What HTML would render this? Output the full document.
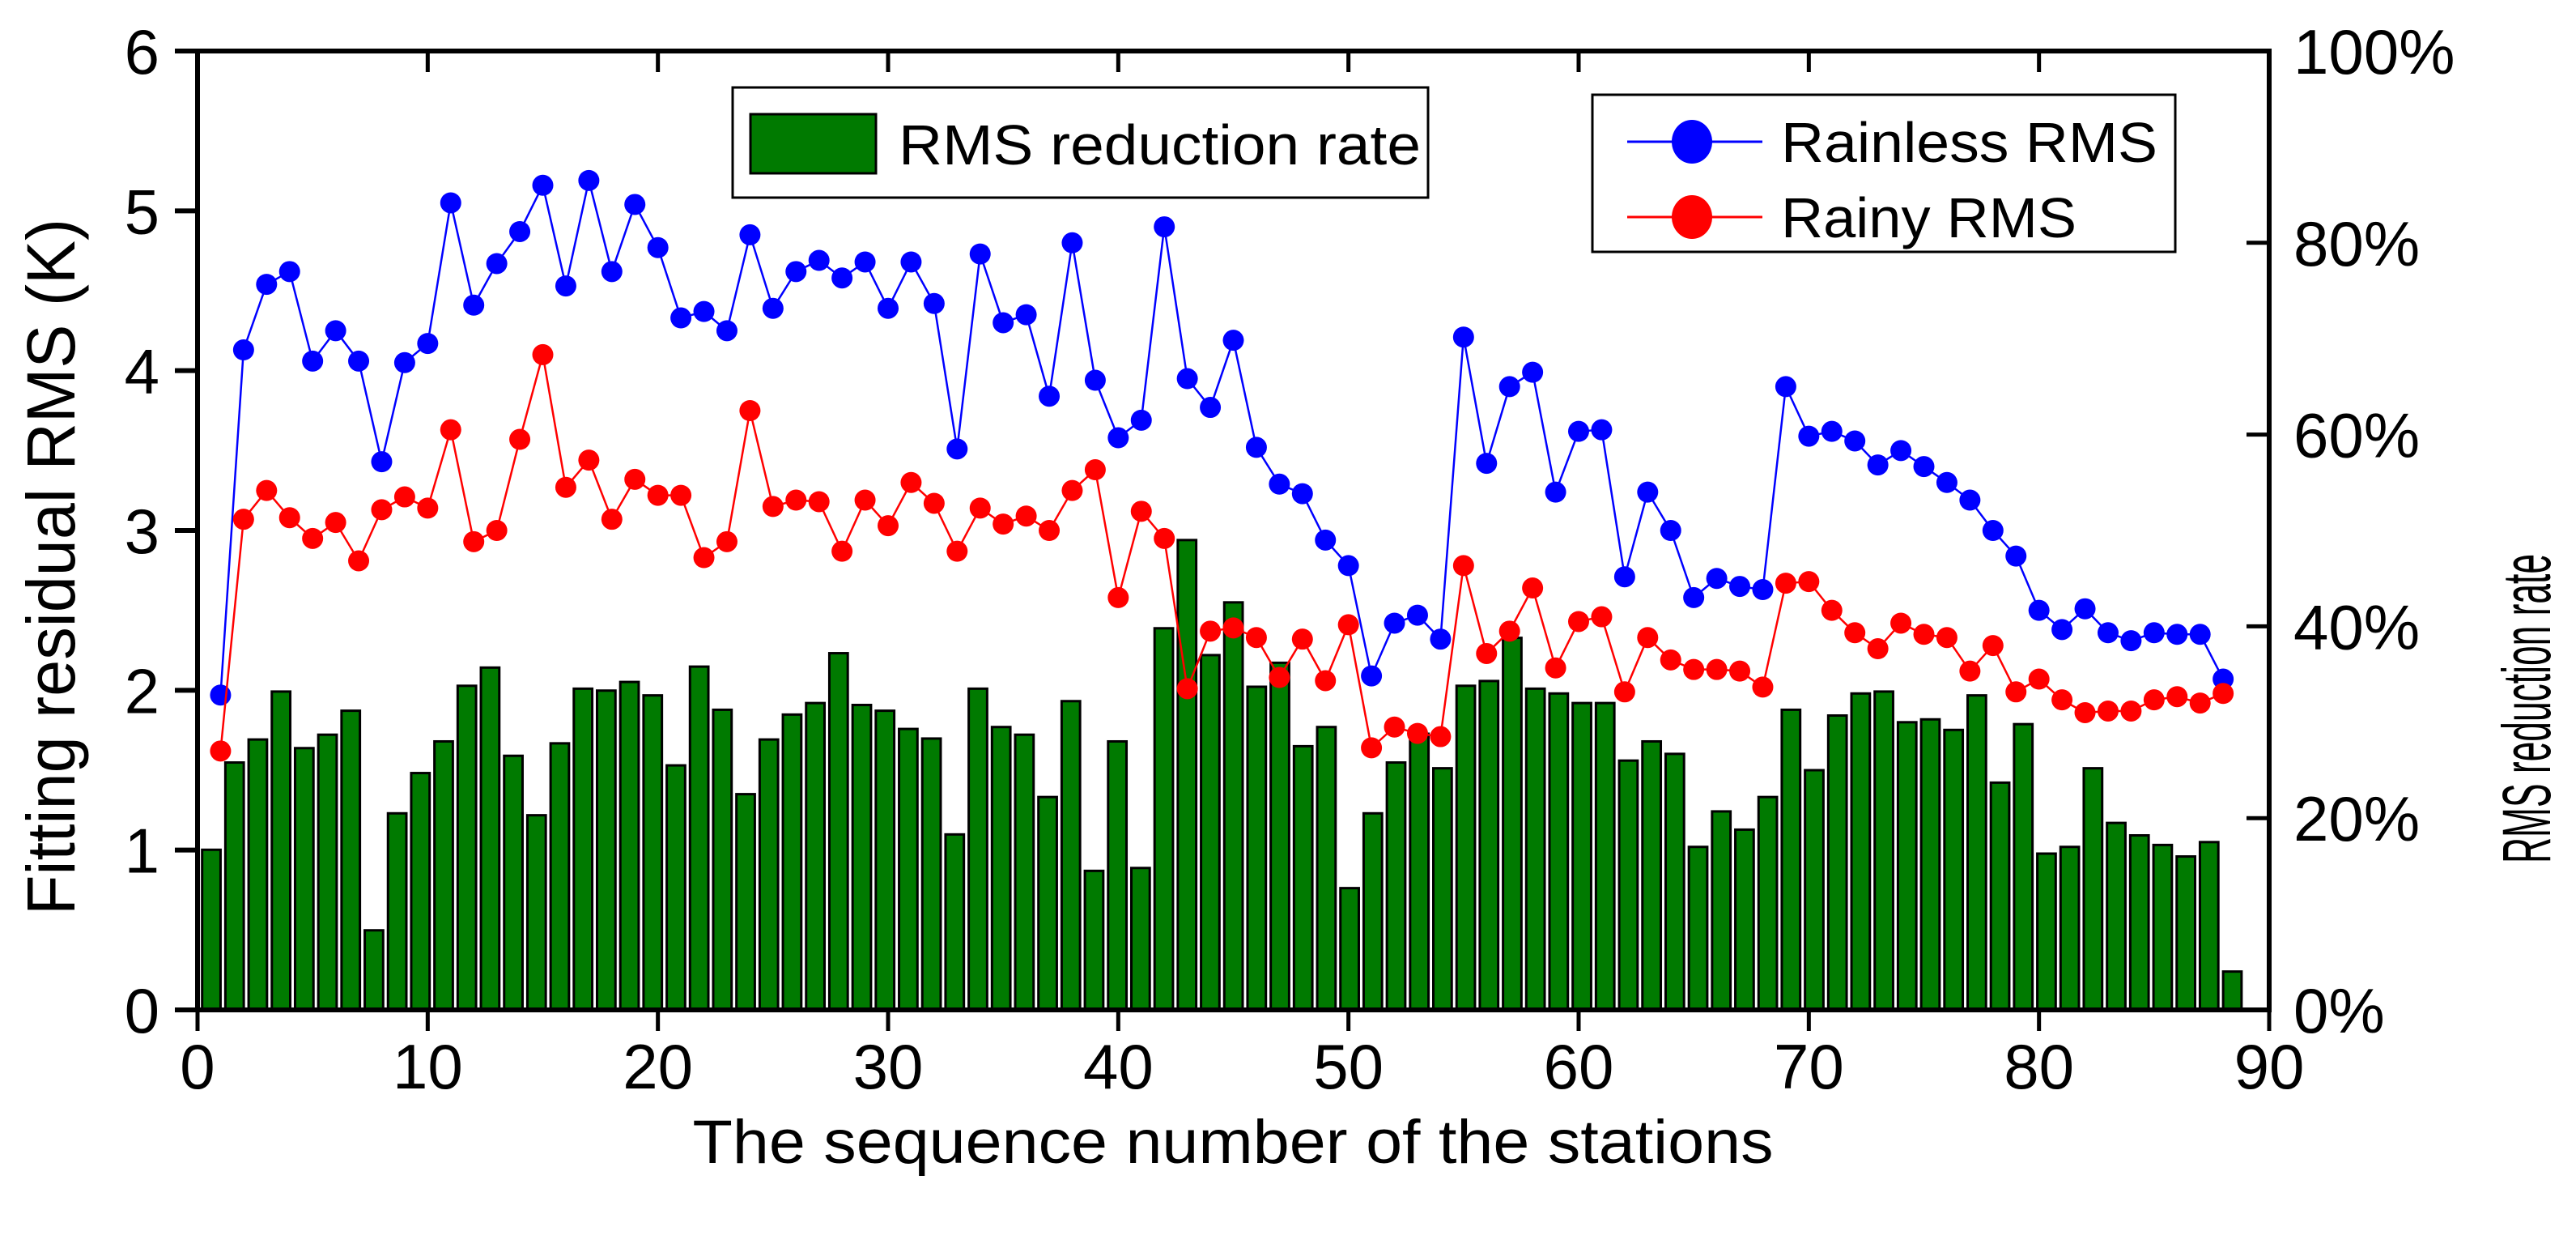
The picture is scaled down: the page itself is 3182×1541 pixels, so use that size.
<!DOCTYPE html>
<html><head><meta charset="utf-8"><style>
html,body{margin:0;padding:0;background:#fff;}
svg{display:block;font-family:"Liberation Sans",Arial,sans-serif;}
</style></head><body>
<svg id="chart" width="3182" height="1541" viewBox="0 0 3182 1541" xmlns="http://www.w3.org/2000/svg">
<g id="bars"></g>
<g id="lines"></g>
<g id="axes"></g>
<text transform="translate(92,700) rotate(-90)" text-anchor="middle" font-size="84" textLength="860" lengthAdjust="spacingAndGlyphs">Fitting residual RMS (K)</text>
<text transform="translate(3150,875) rotate(-90)" text-anchor="middle" font-size="84" textLength="382" lengthAdjust="spacingAndGlyphs">RMS reduction rate</text>
<text x="1523" y="1436" text-anchor="middle" font-size="76" textLength="1335" lengthAdjust="spacingAndGlyphs">The sequence number of the stations</text>
<g>
<rect x="905" y="108" width="859" height="136" fill="#fff" stroke="#000" stroke-width="3"/>
<rect x="927" y="141" width="155" height="73" fill="#007a00" stroke="#000" stroke-width="3"/>
<text x="1110" y="203" font-size="70" textLength="645" lengthAdjust="spacingAndGlyphs">RMS reduction rate</text>
</g>
<g>
<rect x="1967" y="117" width="720" height="194" fill="#fff" stroke="#000" stroke-width="3"/>
<line x1="2010" y1="175" x2="2177" y2="175" stroke="#0000ff" stroke-width="3"/>
<ellipse cx="2090" cy="175" rx="25" ry="27" fill="#0000ff"/>
<text x="2200" y="200" font-size="70" textLength="465" lengthAdjust="spacingAndGlyphs">Rainless RMS</text>
<line x1="2010" y1="268" x2="2177" y2="268" stroke="#ff0000" stroke-width="3"/>
<ellipse cx="2090" cy="268" rx="25" ry="27" fill="#ff0000"/>
<text x="2200" y="293" font-size="70" textLength="365" lengthAdjust="spacingAndGlyphs">Rainy RMS</text>
</g>
</svg>
<script>
const rainless=[1.97,4.13,4.54,4.62,4.06,4.25,4.06,3.43,4.05,4.17,5.05,4.41,4.67,4.87,5.16,4.53,5.19,4.62,5.04,4.77,4.33,4.37,4.25,4.85,4.39,4.62,4.69,4.58,4.68,4.39,4.68,4.42,3.51,4.73,4.30,4.35,3.84,4.80,3.94,3.58,3.69,4.90,3.95,3.77,4.19,3.52,3.29,3.23,2.94,2.78,2.09,2.42,2.47,2.32,4.21,3.42,3.90,3.99,3.24,3.62,3.63,2.71,3.24,3.00,2.58,2.70,2.65,2.63,3.90,3.59,3.62,3.56,3.41,3.50,3.40,3.30,3.19,3.00,2.84,2.50,2.38,2.51,2.36,2.31,2.36,2.35,2.35,2.07];
const rainy=[1.62,3.07,3.25,3.08,2.95,3.05,2.81,3.13,3.21,3.14,3.63,2.93,3.00,3.57,4.10,3.27,3.44,3.07,3.32,3.22,3.22,2.83,2.93,3.75,3.15,3.19,3.18,2.87,3.19,3.03,3.30,3.17,2.87,3.14,3.04,3.09,3.00,3.25,3.38,2.58,3.12,2.95,2.01,2.37,2.39,2.33,2.08,2.32,2.06,2.41,1.64,1.77,1.73,1.71,2.78,2.23,2.37,2.64,2.14,2.43,2.46,1.99,2.33,2.19,2.13,2.13,2.12,2.02,2.67,2.68,2.50,2.36,2.26,2.42,2.35,2.33,2.12,2.28,1.99,2.07,1.94,1.86,1.87,1.87,1.94,1.96,1.92,1.98];
const reductionRate=[16.7,25.8,28.2,33.2,27.3,28.7,31.2,8.3,20.5,24.7,28.0,33.8,35.7,26.5,20.3,27.8,33.5,33.3,34.2,32.8,25.5,35.8,31.3,22.5,28.2,30.8,32.0,37.2,31.8,31.2,29.3,28.3,18.3,33.5,29.5,28.7,22.2,32.2,14.5,28.0,14.8,39.8,49.0,37.0,42.5,33.7,36.2,27.5,29.5,12.7,20.5,25.8,28.8,25.2,33.8,34.3,38.8,33.5,33.0,32.0,32.0,26.0,28.0,26.7,17.0,20.7,18.8,22.2,31.3,25.0,30.7,33.0,33.2,30.0,30.3,29.2,32.8,23.7,29.8,16.3,17.0,25.2,19.5,18.2,17.2,16.0,17.5,4.0];
const xTicks=[0,10,20,30,40,50,60,70,80,90];
const yTicks=[0,1,2,3,4,5,6];
const y2Ticks=["0%","20%","40%","60%","80%","100%"];
const NS="http://www.w3.org/2000/svg";
const L=244,R=2803,T=63,B=1247;
const xs=v=>L+(v/90)*(R-L);
const ys=v=>B-(v/6)*(B-T);
const ys2=v=>B-(v/100)*(B-T);
function mk(tag,attrs,parent){const e=document.createElementNS(NS,tag);for(const k in attrs)e.setAttribute(k,attrs[k]);parent.appendChild(e);return e;}
const gb=document.getElementById('bars'),gl=document.getElementById('lines'),ga=document.getElementById('axes');
const barStep=87.8/(reductionRate.length-1);
reductionRate.forEach((v,i)=>{
  const c=0.6+i*barStep;
  let x1=xs(c-0.4),x2=Math.min(xs(c+0.4),R);
  const r=mk('rect',{x:x1,y:ys2(v),width:x2-x1,height:B-ys2(v),fill:'#007a00',stroke:'#000','stroke-width':3},gb);
  
  
});
function series(vals,color,name){
  const pts=vals.map((v,i)=>xs(i+1)+','+ys(v)).join(' ');
  const pl=mk('polyline',{points:pts,fill:'none',stroke:color,'stroke-width':2.5},gl);
  
  
  vals.forEach((v,i)=>{
    const c=mk('circle',{cx:xs(i+1),cy:ys(v),r:13,fill:color},gl);
    
    
  });
}
series(rainless,'#0000ff','rainless');
series(rainy,'#ff0000','rainy');
mk('rect',{x:L,y:T,width:R-L,height:B-T,fill:'none',stroke:'#000','stroke-width':6},ga);
xTicks.forEach(t=>{
  const x=xs(t);
  mk('line',{x1:x,y1:B,x2:x,y2:B+26,stroke:'#000','stroke-width':5},ga);
  mk('line',{x1:x,y1:T,x2:x,y2:T+26,stroke:'#000','stroke-width':5},ga);
  const tx=mk('text',{x:x,y:B+97,'text-anchor':'middle','font-size':78},ga);
  tx.textContent=t;
  
  
});
yTicks.forEach(t=>{
  const y=ys(t);
  mk('line',{x1:L-28,y1:y,x2:L,y2:y,stroke:'#000','stroke-width':6},ga);
  const tx=mk('text',{x:L-47,y:y+28,'text-anchor':'end','font-size':78},ga);
  tx.textContent=t;
  
  
});
y2Ticks.forEach((t,i)=>{
  const y=ys2(i*20);
  mk('line',{x1:R-28,y1:y,x2:R,y2:y,stroke:'#000','stroke-width':5},ga);
  const tx=mk('text',{x:R+30,y:y+28,'font-size':78},ga);
  tx.textContent=t;
  
  
});
</script>
</body></html>
